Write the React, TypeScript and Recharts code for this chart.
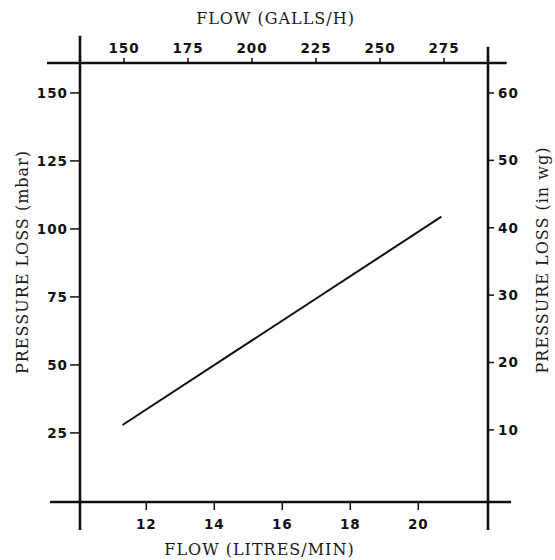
import { LineChart, Line, XAxis, YAxis, ReferenceLine, Label } from 'recharts';

// pressure loss curve
const flowLpm = [11.3, 20.68];
const flowGph = [149.1, 273.8];
const lossMbar = [27.9, 104.5];

const lpmTicks = [12, 14, 16, 18, 20];
const gphTicks = [150, 175, 200, 225, 250, 275];
const mbarTicks = [25, 50, 75, 100, 125, 150];
const wgTicks = [10, 20, 30, 40, 50, 60];

const lpmDomain = [10.05, 22.05];
const gphDomain = [132.8, 292.2];
const mbarDomain = [-0.4, 161];
const wgDomain = [-0.7, 64.45];

const data = flowLpm.map((lpm, i) => ({ lpm, gph: flowGph[i], mbar: lossMbar[i] }));

// frame lines overshoot the box a little, like the hand-drawn original
const frame = [
  [{ x: lpmDomain[0], y: -10.7 }, { x: lpmDomain[0], y: 171 }],
  [{ x: lpmDomain[1], y: -10.7 }, { x: lpmDomain[1], y: 167 }],
  [{ x: 9.08, y: mbarDomain[1] }, { x: 22.6, y: mbarDomain[1] }],
  [{ x: 9.17, y: mbarDomain[0] }, { x: 22.73, y: mbarDomain[0] }],
];

const tickFont = {
  fontFamily: '"DejaVu Sans", sans-serif',
  fontWeight: 700,
  fontSize: 13.5,
  letterSpacing: 1,
};

const titleFont = {
  fontFamily: '"DejaVu Serif", serif',
  fontSize: 16,
  letterSpacing: 1,
};

const makeTick = (anchor: string, dy: string) => (props: any) => (
  <text x={props.x} y={props.y} textAnchor={anchor} dy={dy} fill="#111" style={tickFont}>
    {props.payload.value}
  </text>
);

const makeTitle = (text: string, place: (vb: any) => { x: number; y: number; rotate?: boolean }) =>
  (props: any) => {
    const p = place(props.viewBox);
    return (
      <text
        x={p.x}
        y={p.y}
        textAnchor="middle"
        dominantBaseline={p.rotate ? 'central' : 'auto'}
        transform={p.rotate ? `rotate(-90, ${p.x}, ${p.y})` : undefined}
        fill="#1a1a1a"
        style={titleFont}
      >
        {text}
      </text>
    );
  };

const tickLine = { stroke: '#111', strokeWidth: 1.5 };

export default function App() {
  return (
    <div style={{ position: 'absolute', left: 0, top: 0, background: '#fff' }}>
      <LineChart
        width={555}
        height={560}
        data={data}
        margin={{ top: 18, right: 7, bottom: 13, left: 10 }}
      >
        <XAxis
          xAxisId="lpm"
          dataKey="lpm"
          type="number"
          domain={lpmDomain}
          ticks={lpmTicks}
          allowDataOverflow
          axisLine={false}
          tickLine={tickLine}
          tickSize={8}
          tickMargin={9}
          height={45}
          tick={makeTick('middle', '0.71em')}
        >
          <Label
            content={makeTitle('FLOW (LITRES/MIN)', (vb) => ({ x: vb.x + vb.width / 2 - 24.5, y: vb.y + 53 }))}
          />
        </XAxis>
        <XAxis
          xAxisId="gph"
          dataKey="gph"
          orientation="top"
          type="number"
          domain={gphDomain}
          ticks={gphTicks}
          allowDataOverflow
          axisLine={false}
          tickLine={tickLine}
          tickSize={5}
          tickMargin={5}
          height={45}
          tick={makeTick('middle', '0')}
        >
          <Label
            content={makeTitle('FLOW (GALLS/H)', (vb) => ({ x: vb.x + vb.width / 2 - 8.5, y: vb.y + 6 }))}
          />
        </XAxis>
        <YAxis
          yAxisId="mbar"
          type="number"
          domain={mbarDomain}
          ticks={mbarTicks}
          allowDataOverflow
          axisLine={false}
          tickLine={tickLine}
          tickSize={10}
          tickMargin={2}
          width={70}
          tick={makeTick('end', '0.36em')}
        >
          <Label
            content={makeTitle('PRESSURE LOSS (mbar)', (vb) => ({ x: vb.x + 12, y: vb.y + vb.height / 2 - 20.5, rotate: true }))}
          />
        </YAxis>
        <YAxis
          yAxisId="wg"
          orientation="right"
          type="number"
          domain={wgDomain}
          ticks={wgTicks}
          allowDataOverflow
          axisLine={false}
          tickLine={tickLine}
          tickSize={6}
          tickMargin={4}
          width={60}
          tick={makeTick('start', '0.36em')}
        >
          <Label
            content={makeTitle('PRESSURE LOSS (in wg)', (vb) => ({ x: vb.x + 54, y: vb.y + vb.height / 2 - 22.5, rotate: true }))}
          />
        </YAxis>
        {frame.map((seg, i) => (
          <ReferenceLine
            key={`frame-${i}`}
            xAxisId="lpm"
            yAxisId="mbar"
            segment={seg}
            ifOverflow="visible"
            stroke="#111"
            strokeWidth={2.6}
          />
        ))}
        <Line
          xAxisId="lpm"
          yAxisId="mbar"
          dataKey="mbar"
          stroke="#111"
          strokeWidth={2}
          dot={false}
          isAnimationActive={false}
        />
      </LineChart>
    </div>
  );
}
